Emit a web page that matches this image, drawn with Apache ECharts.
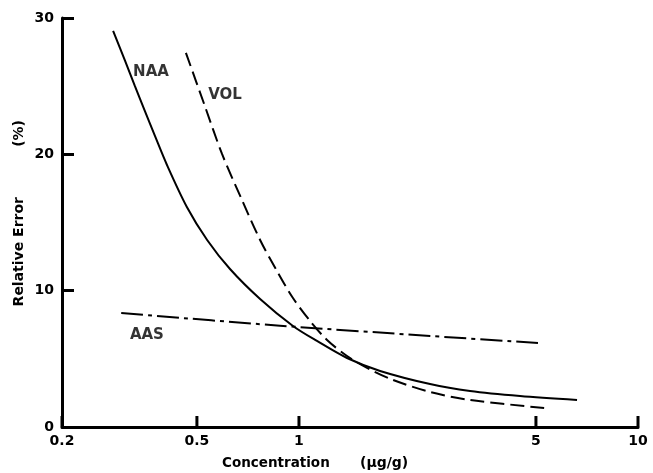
<!DOCTYPE html>
<html><head><meta charset="utf-8">
<script src="https://cdn.jsdelivr.net/npm/echarts@6/dist/echarts.min.js"></script>
<style>html,body{margin:0;padding:0;background:#fff}#c{width:653px;height:473px}</style>
</head><body><div id="c"></div>
<script>
const xTicks = [0.2, 0.5, 1, 5, 10];
const xTickLabels = ['0.2', '0.5', '1', '5', '10'];
const yTicks = [0, 10, 20, 30];
const naaX = [0.283, 0.307, 0.328, 0.351, 0.376, 0.408, 0.467, 0.536, 0.626, 0.768, 0.960, 1.130, 1.386, 1.735, 2.436, 3.196, 4.488, 6.61];
const naaY = [29.06, 26.85, 25.02, 23.18, 21.35, 19.22, 16.14, 13.72, 11.59, 9.39, 7.41, 6.31, 5.06, 4.11, 3.15, 2.64, 2.27, 1.98];
const volX = [0.464, 0.525, 0.593, 0.675, 0.768, 0.861, 0.960, 1.078, 1.210, 1.386, 1.588, 1.894, 2.436, 3.196, 5.32];
const volY = [27.44, 23.70, 20.03, 16.80, 13.72, 11.45, 9.46, 7.78, 6.38, 5.21, 4.33, 3.45, 2.57, 1.98, 1.39];
const aasX = [0.299, 0.879, 2.436, 5.07];
const aasY = [8.36, 7.43, 6.68, 6.16];
const labelNames = ['NAA', 'VOL', 'AAS'];
const labelX = [0.366, 0.605, 0.356];
const labelY = [26.05, 24.36, 6.75];

const FONT = '"DejaVu Sans", "Liberation Sans", Arial, sans-serif';
const zip = (xs, ys) => xs.map((x, i) => [x, ys[i]]);
const chart = echarts.init(document.getElementById('c'));
chart.setOption({
  animation: false,
  backgroundColor: '#fff',
  grid: { left: 62, right: 15, top: 18, bottom: 46 },
  xAxis: {
    type: 'log', logBase: 10, min: 0.2, max: 10,
    axisLine: { show: true, lineStyle: { color: '#000', width: 3 } },
    axisTick: { show: false }, axisLabel: { show: false }, splitLine: { show: false }
  },
  yAxis: {
    type: 'value', min: 0, max: 30, interval: 10,
    axisLine: { show: true, lineStyle: { color: '#000', width: 3 } },
    axisTick: { show: true, inside: true, length: 12, lineStyle: { color: '#000', width: 3 } },
    axisLabel: { color: '#000', fontWeight: 'bold', fontSize: 14, fontFamily: FONT, margin: 8 },
    splitLine: { show: false }
  },
  graphic: [
    { type: 'text', left: 12, top: 197, rotation: Math.PI / 2, style: { text: 'Relative Error', font: 'bold 14px ' + FONT, fill: '#000' } },
    { type: 'text', left: 12, top: 120, rotation: Math.PI / 2, style: { text: '(%)', font: 'bold 14px ' + FONT, fill: '#000' } },
    { type: 'text', left: 222, top: 456, style: { text: 'Concentration', font: 'bold 13.5px ' + FONT, fill: '#000' } },
    { type: 'text', left: 360, top: 456, style: { text: '(\u03bcg/g)', font: 'bold 14px ' + FONT, fill: '#000' } }
  ],
  series: [
    { type: 'line', data: zip(naaX, naaY), smooth: 0.3, showSymbol: false, symbol: 'none',
      lineStyle: { color: '#000', width: 2, type: 'solid' } },
    { type: 'line', data: zip(volX, volY), smooth: 0.3, showSymbol: false, symbol: 'none',
      lineStyle: { color: '#000', width: 2, type: [14, 6] } },
    { type: 'line', data: zip(aasX, aasY), smooth: 0.3, showSymbol: false, symbol: 'none',
      lineStyle: { color: '#000', width: 2, type: [22, 5, 4, 5] } },
    { type: 'scatter', symbolSize: 0, data: labelNames.map((n, i) => ({ name: n, value: [labelX[i], labelY[i]] })),
      label: { show: true, position: 'inside', formatter: '{b}', color: '#000', fontWeight: 'bold', fontSize: 15, fontFamily: FONT } },
    { type: 'custom', clip: false, silent: true,
      data: xTicks.map((v, i) => [v, 0, i]),
      renderItem: function (params, api) {
        const p = api.coord([api.value(0), 0]);
        const i = api.value(2);
        return { type: 'group', children: [
          { type: 'line', shape: { x1: p[0], y1: p[1], x2: p[0], y2: p[1] - 11 }, style: { stroke: '#000', lineWidth: 3 } },
          { type: 'text', style: { text: xTickLabels[i], x: p[0], y: p[1] + 7, align: 'center', verticalAlign: 'top', font: 'bold 14px ' + FONT, fill: '#000' } }
        ] };
      } }
  ]
});
</script></body></html>
